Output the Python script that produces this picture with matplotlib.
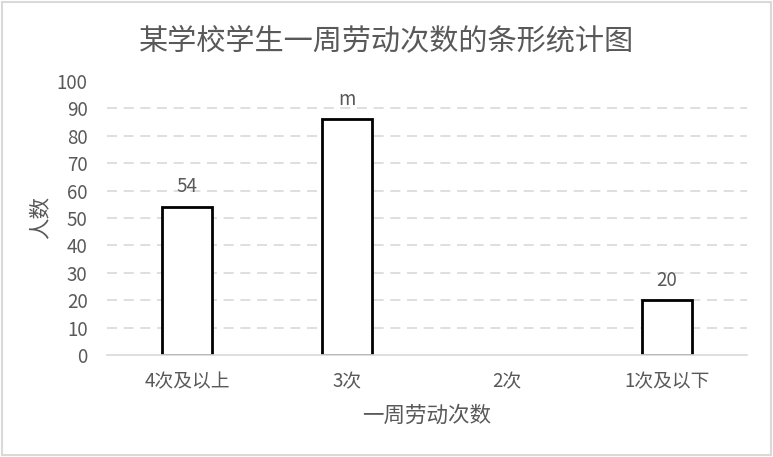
import matplotlib.pyplot as plt
from matplotlib.patches import Rectangle

plt.rcParams['font.family'] = ['Noto Sans CJK SC', 'DejaVu Sans']

categories = ["4次及以上", "3次", "2次", "1次及以下"]
counts = [54, 86, 0, 20]
bar_labels = ["54", "m", "", "20"]
y_ticks = [0, 10, 20, 30, 40, 50, 60, 70, 80, 90, 100]

GRAY = "#595959"

fig = plt.figure(figsize=(7.73, 4.57), dpi=100)
ax = fig.add_axes([0.1384, 0.2232, 0.828, 0.5996])

# bars (skip the empty one)
xs = list(range(len(categories)))
for x, c, lab in zip(xs, counts, bar_labels):
    if c > 0:
        ax.bar(x, c, width=0.31, color="white", edgecolor="black",
               linewidth=2, zorder=3)
        ax.text(x, c + 3.5, lab, ha="center", va="bottom",
                fontsize=13.5, color=GRAY)

# gridlines
for t in y_ticks[1:-1]:
    ax.axhline(t, color="#d9d9d9", linestyle=(0, (6, 4)),
               linewidth=1.2, zorder=1)

ax.set_xlim(-0.5, 3.5)
ax.set_ylim(0, 100)
ax.set_yticks(y_ticks)
ax.set_xticks(xs)
ax.set_xticklabels(categories)
ax.tick_params(axis="both", length=0, labelsize=13.5, labelcolor=GRAY)
ax.tick_params(axis="x", pad=12)
ax.tick_params(axis="y", pad=14)

for side in ["top", "right", "left"]:
    ax.spines[side].set_visible(False)
ax.spines["bottom"].set_color("#d9d9d9")
ax.spines["bottom"].set_linewidth(1.2)
ax.spines["bottom"].set_zorder(4)

ax.set_xlabel("一周劳动次数", fontsize=15.5, color=GRAY, labelpad=9)
ax.set_ylabel("人数", fontsize=15.5, color=GRAY, labelpad=4)

fig.text(0.5, 0.91, "某学校学生一周劳动次数的条形统计图",
         ha="center", va="center", fontsize=21, color=GRAY)

# outer border
fig.patches.append(Rectangle((0.002, 0.004), 0.995, 0.992,
                             transform=fig.transFigure, fill=False,
                             edgecolor="#d9d9d9", linewidth=1.5))

fig.savefig("out.png", dpi=100)
